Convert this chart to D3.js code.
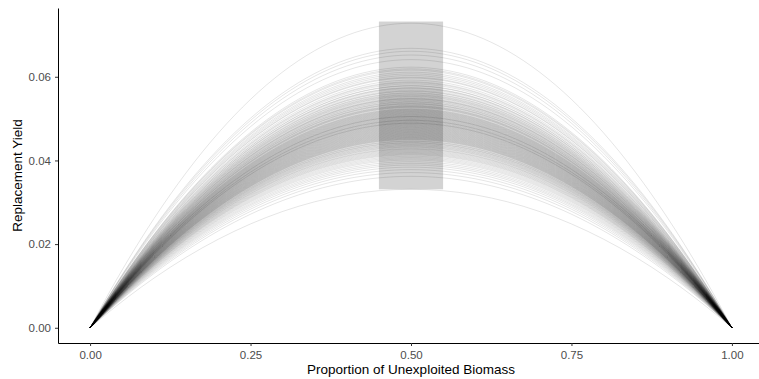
<!DOCTYPE html>
<html>
<head>
<meta charset="utf-8">
<script src="https://cdn.jsdelivr.net/npm/d3@7"></script>
<style>
  body { margin: 0; background: #fff; }
  text { font-family: "Liberation Sans", Arial, sans-serif; }
</style>
</head>
<body>
<svg id="chart" width="759" height="379"></svg>
<script>
// peak replacement yield (MSY as proportion) of each curve
const peakYield = [
  0.0728, 0.0668, 0.0661, 0.0652, 0.0641, 0.0623, 0.0619, 0.0616, 0.0611, 0.0607,
  0.0603, 0.0599, 0.0597, 0.0592, 0.0588, 0.0586, 0.0583, 0.0579, 0.0578, 0.0574,
  0.0573, 0.0571, 0.0568, 0.0566, 0.0565, 0.0562, 0.0561, 0.0559, 0.0557, 0.0556,
  0.0554, 0.0553, 0.0551, 0.0549, 0.0548, 0.0547, 0.0546, 0.0544, 0.0543, 0.0541,
  0.0540, 0.0539, 0.0537, 0.0536, 0.0535, 0.0534, 0.0532, 0.0531, 0.0530, 0.0529,
  0.0528, 0.0527, 0.0526, 0.0524, 0.0523, 0.0522, 0.0521, 0.0520, 0.0519, 0.0518,
  0.0517, 0.0516, 0.0515, 0.0514, 0.0513, 0.0512, 0.0511, 0.0510, 0.0509, 0.0508,
  0.0507, 0.0506, 0.0505, 0.0505, 0.0504, 0.0503, 0.0502, 0.0501, 0.0500, 0.0499,
  0.0498, 0.0497, 0.0496, 0.0496, 0.0495, 0.0494, 0.0493, 0.0492, 0.0491, 0.0490,
  0.0489, 0.0489, 0.0488, 0.0487, 0.0486, 0.0485, 0.0484, 0.0483, 0.0482, 0.0481,
  0.0480, 0.0479, 0.0478, 0.0477, 0.0476, 0.0475, 0.0474, 0.0473, 0.0472, 0.0471,
  0.0470, 0.0469, 0.0468, 0.0467, 0.0466, 0.0465, 0.0464, 0.0463, 0.0462, 0.0461,
  0.0460, 0.0459, 0.0458, 0.0457, 0.0456, 0.0455, 0.0454, 0.0453, 0.0452, 0.0451,
  0.0450, 0.0449, 0.0447, 0.0446, 0.0445, 0.0443, 0.0442, 0.0441, 0.0439, 0.0438,
  0.0436, 0.0435, 0.0433, 0.0432, 0.0430, 0.0428, 0.0427, 0.0425, 0.0423, 0.0421,
  0.0419, 0.0417, 0.0415, 0.0413, 0.0410, 0.0407, 0.0404, 0.0401, 0.0397, 0.0393,
  0.0389, 0.0384, 0.0378, 0.0371, 0.0362, 0.0331
];

// relative biomass grid the curves are sampled on
const biomass = [
  0, 0.02, 0.04, 0.06, 0.08, 0.1, 0.125, 0.15, 0.175, 0.2, 0.25, 0.3, 0.35, 0.4, 0.45,
  0.5, 0.55, 0.6, 0.65, 0.7, 0.75, 0.8, 0.825, 0.85, 0.875, 0.9, 0.92, 0.94, 0.96, 0.98, 1
];

const xTicks = [0, 0.25, 0.5, 0.75, 1];
const yTicks = [0, 0.02, 0.04, 0.06];
const shadeX = [0.45, 0.55];
const shadeY = [0.0331, 0.0732];

const width = 759, height = 379;
const margin = {top: 8, right: -5, bottom: 36, left: 58};

const svg = d3.select("#chart");

// ggplot-style 5% padding
const xDom = [-0.05, 1.05];
const yMax = d3.max(peakYield);
const yDom = [-0.05 * yMax, yMax * 1.05];

const x = d3.scaleLinear().domain(xDom).range([margin.left, width - margin.right]);
const y = d3.scaleLinear().domain(yDom).range([height - margin.bottom, margin.top]);

// shaded MSY window
svg.append("rect")
  .attr("x", x(shadeX[0]))
  .attr("width", x(shadeX[1]) - x(shadeX[0]))
  .attr("y", y(shadeY[1]))
  .attr("height", y(shadeY[0]) - y(shadeY[1]))
  .attr("fill", "#d3d3d3");

// Schaefer surplus production: yield = 4 * msy * b * (1 - b)
const line = d3.line()
  .x(d => x(d[0]))
  .y(d => y(d[1]))
  .curve(d3.curveMonotoneX);

svg.append("g")
  .selectAll("path")
  .data(peakYield)
  .enter()
  .append("path")
  .attr("d", m => line(biomass.map(b => [b, 4 * m * b * (1 - b)])))
  .attr("fill", "none")
  .attr("stroke", "#000")
  .attr("stroke-opacity", 0.15)
  .attr("stroke-width", 0.7);

// axes
const xAxis = svg.append("g")
  .attr("transform", "translate(0," + (height - margin.bottom) + ")")
  .call(d3.axisBottom(x).tickValues(xTicks).tickFormat(d3.format(".2f"))
    .tickSizeInner(3).tickSizeOuter(0).tickPadding(5));

const yAxis = svg.append("g")
  .attr("transform", "translate(" + margin.left + ",0)")
  .call(d3.axisLeft(y).tickValues(yTicks).tickFormat(d3.format(".2f"))
    .tickSizeInner(3).tickSizeOuter(0).tickPadding(4));

[xAxis, yAxis].forEach(g => {
  g.select(".domain").attr("stroke", "#000").attr("stroke-width", 1);
  g.selectAll(".tick line").attr("stroke", "#333");
  g.selectAll(".tick text")
    .attr("fill", "#4d4d4d")
    .style("font-size", "11.5px")
    .style("font-family", "Liberation Sans, Arial, sans-serif");
});

svg.append("text")
  .attr("x", x(0.5))
  .attr("y", 374)
  .attr("text-anchor", "middle")
  .style("font-size", "13.5px")
  .attr("fill", "#000")
  .text("Proportion of Unexploited Biomass");

svg.append("text")
  .attr("transform", "translate(22," + y(0.0364) + ") rotate(-90)")
  .attr("text-anchor", "middle")
  .style("font-size", "13.5px")
  .attr("fill", "#000")
  .text("Replacement Yield");
</script>
</body>
</html>
